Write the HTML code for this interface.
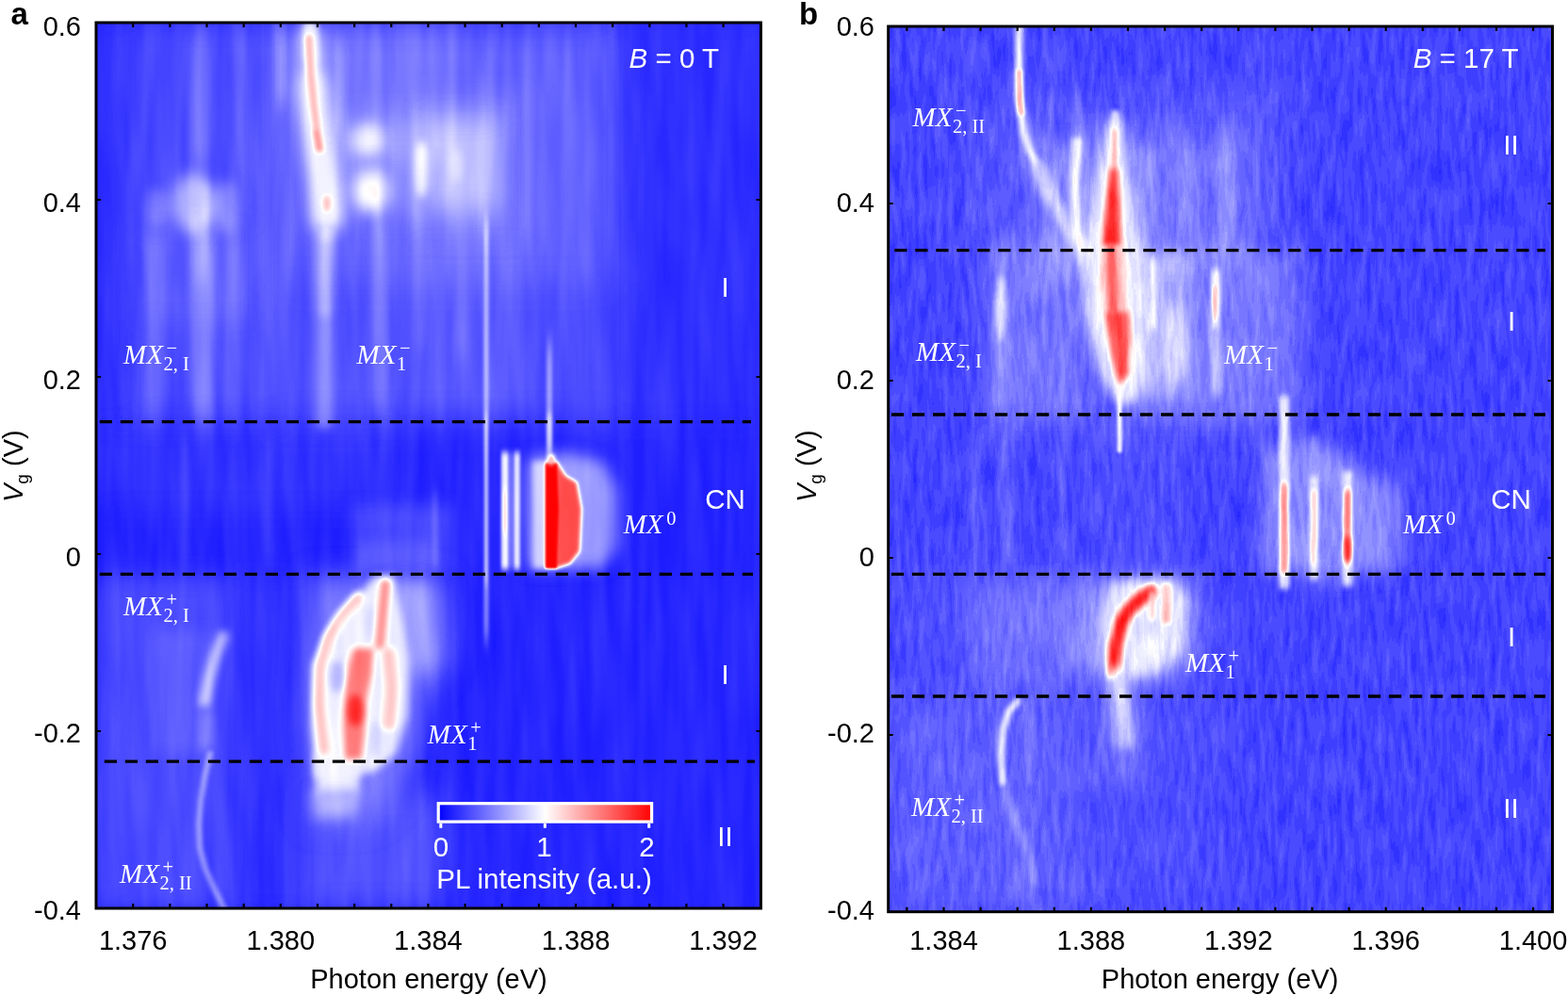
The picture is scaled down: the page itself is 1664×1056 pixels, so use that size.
<!DOCTYPE html><html><head><meta charset="utf-8"><style>html,body{margin:0;padding:0;background:#fff;width:1664px;height:1056px;overflow:hidden}svg{display:block}.tk{font-family:"Liberation Sans",Arial,sans-serif;font-size:29px;fill:#000}.wt{font-family:"Liberation Sans",Arial,sans-serif;font-size:29.5px;fill:#fff}.mx{font-family:"Liberation Serif","DejaVu Serif",serif;font-style:italic;font-size:29px;fill:#fff}.ms{font-family:"Liberation Serif","DejaVu Serif",serif;font-size:20.5px;fill:#fff}.mx .r{font-style:normal}</style></head><body>
<svg width="1664" height="1056" viewBox="0 0 1664 1056">
<defs>
<filter id="cmapA" filterUnits="userSpaceOnUse" x="0" y="0" width="1664" height="1056" color-interpolation-filters="sRGB"><feTurbulence type="fractalNoise" baseFrequency="0.07 0.008" numOctaves="2" seed="3" result="t"/><feColorMatrix in="t" type="matrix" values="1 0 0 0 0 1 0 0 0 0 1 0 0 0 0 0 0 0 0 1" result="tg"/><feComposite in="SourceGraphic" in2="tg" operator="arithmetic" k1="0" k2="1" k3="0.07" k4="-0.035" result="s"/><feComponentTransfer in="s"><feFuncR type="table" tableValues="0 1 1"/><feFuncG type="table" tableValues="0 1 0"/><feFuncB type="table" tableValues="1 1 0"/><feFuncA type="table" tableValues="1 1"/></feComponentTransfer></filter>
<filter id="cmapB" filterUnits="userSpaceOnUse" x="0" y="0" width="1664" height="1056" color-interpolation-filters="sRGB"><feTurbulence type="fractalNoise" baseFrequency="0.16 0.025" numOctaves="2" seed="7" result="t"/><feColorMatrix in="t" type="matrix" values="1 0 0 0 0 1 0 0 0 0 1 0 0 0 0 0 0 0 0 1" result="tg0"/><feComponentTransfer in="tg0" result="tg"><feFuncR type="discrete" tableValues="0 0.2 0.4 0.6 0.8 1"/><feFuncG type="discrete" tableValues="0 0.2 0.4 0.6 0.8 1"/><feFuncB type="discrete" tableValues="0 0.2 0.4 0.6 0.8 1"/></feComponentTransfer><feComposite in="SourceGraphic" in2="tg" operator="arithmetic" k1="0" k2="1" k3="0.12" k4="-0.06" result="s"/><feComponentTransfer in="s"><feFuncR type="table" tableValues="0 1 1"/><feFuncG type="table" tableValues="0 1 0"/><feFuncB type="table" tableValues="1 1 0"/><feFuncA type="table" tableValues="1 1"/></feComponentTransfer></filter>
<filter id="f0" filterUnits="userSpaceOnUse" x="0" y="0" width="1664" height="1056" color-interpolation-filters="sRGB"><feGaussianBlur stdDeviation="15 15"/></filter>
<filter id="f1" filterUnits="userSpaceOnUse" x="0" y="0" width="1664" height="1056" color-interpolation-filters="sRGB"><feGaussianBlur stdDeviation="12 12"/></filter>
<filter id="f2" filterUnits="userSpaceOnUse" x="0" y="0" width="1664" height="1056" color-interpolation-filters="sRGB"><feGaussianBlur stdDeviation="18 18"/></filter>
<filter id="f3" filterUnits="userSpaceOnUse" x="0" y="0" width="1664" height="1056" color-interpolation-filters="sRGB"><feGaussianBlur stdDeviation="8 8"/></filter>
<filter id="f4" filterUnits="userSpaceOnUse" x="0" y="0" width="1664" height="1056" color-interpolation-filters="sRGB"><feGaussianBlur stdDeviation="5 15"/></filter>
<filter id="f5" filterUnits="userSpaceOnUse" x="0" y="0" width="1664" height="1056" color-interpolation-filters="sRGB"><feGaussianBlur stdDeviation="4 15"/></filter>
<filter id="f6" filterUnits="userSpaceOnUse" x="0" y="0" width="1664" height="1056" color-interpolation-filters="sRGB"><feGaussianBlur stdDeviation="3 12"/></filter>
<filter id="f7" filterUnits="userSpaceOnUse" x="0" y="0" width="1664" height="1056" color-interpolation-filters="sRGB"><feGaussianBlur stdDeviation="3 15"/></filter>
<filter id="f8" filterUnits="userSpaceOnUse" x="0" y="0" width="1664" height="1056" color-interpolation-filters="sRGB"><feGaussianBlur stdDeviation="4 4"/></filter>
<filter id="f9" filterUnits="userSpaceOnUse" x="0" y="0" width="1664" height="1056" color-interpolation-filters="sRGB"><feGaussianBlur stdDeviation="7 7"/></filter>
<filter id="f10" filterUnits="userSpaceOnUse" x="0" y="0" width="1664" height="1056" color-interpolation-filters="sRGB"><feGaussianBlur stdDeviation="6 6"/></filter>
<filter id="f11" filterUnits="userSpaceOnUse" x="0" y="0" width="1664" height="1056" color-interpolation-filters="sRGB"><feGaussianBlur stdDeviation="14 14"/></filter>
<filter id="f12" filterUnits="userSpaceOnUse" x="0" y="0" width="1664" height="1056" color-interpolation-filters="sRGB"><feGaussianBlur stdDeviation="5 5"/></filter>
<filter id="f13" filterUnits="userSpaceOnUse" x="0" y="0" width="1664" height="1056" color-interpolation-filters="sRGB"><feGaussianBlur stdDeviation="3 3"/></filter>
<filter id="f14" filterUnits="userSpaceOnUse" x="0" y="0" width="1664" height="1056" color-interpolation-filters="sRGB"><feGaussianBlur stdDeviation="2.5 2.5"/></filter>
<filter id="f15" filterUnits="userSpaceOnUse" x="0" y="0" width="1664" height="1056" color-interpolation-filters="sRGB"><feGaussianBlur stdDeviation="10 10"/></filter>
<filter id="f16" filterUnits="userSpaceOnUse" x="0" y="0" width="1664" height="1056" color-interpolation-filters="sRGB"><feGaussianBlur stdDeviation="5 12"/></filter>
<filter id="f17" filterUnits="userSpaceOnUse" x="0" y="0" width="1664" height="1056" color-interpolation-filters="sRGB"><feGaussianBlur stdDeviation="5 14"/></filter>
<filter id="f18" filterUnits="userSpaceOnUse" x="0" y="0" width="1664" height="1056" color-interpolation-filters="sRGB"><feGaussianBlur stdDeviation="4 12"/></filter>
<filter id="f19" filterUnits="userSpaceOnUse" x="0" y="0" width="1664" height="1056" color-interpolation-filters="sRGB"><feGaussianBlur stdDeviation="1.6 10"/></filter>
<filter id="f20" filterUnits="userSpaceOnUse" x="0" y="0" width="1664" height="1056" color-interpolation-filters="sRGB"><feGaussianBlur stdDeviation="1.3 6"/></filter>
<filter id="f21" filterUnits="userSpaceOnUse" x="0" y="0" width="1664" height="1056" color-interpolation-filters="sRGB"><feGaussianBlur stdDeviation="1.8 12"/></filter>
<filter id="f22" filterUnits="userSpaceOnUse" x="0" y="0" width="1664" height="1056" color-interpolation-filters="sRGB"><feGaussianBlur stdDeviation="1.5 5"/></filter>
<filter id="f23" filterUnits="userSpaceOnUse" x="0" y="0" width="1664" height="1056" color-interpolation-filters="sRGB"><feGaussianBlur stdDeviation="2 6"/></filter>
<filter id="f24" filterUnits="userSpaceOnUse" x="0" y="0" width="1664" height="1056" color-interpolation-filters="sRGB"><feGaussianBlur stdDeviation="3 10"/></filter>
<filter id="f25" filterUnits="userSpaceOnUse" x="0" y="0" width="1664" height="1056" color-interpolation-filters="sRGB"><feGaussianBlur stdDeviation="1.5 3"/></filter>
<filter id="f26" filterUnits="userSpaceOnUse" x="0" y="0" width="1664" height="1056" color-interpolation-filters="sRGB"><feGaussianBlur stdDeviation="2 3"/></filter>
<filter id="f27" filterUnits="userSpaceOnUse" x="0" y="0" width="1664" height="1056" color-interpolation-filters="sRGB"><feGaussianBlur stdDeviation="2 2"/></filter>
<filter id="f28" filterUnits="userSpaceOnUse" x="0" y="0" width="1664" height="1056" color-interpolation-filters="sRGB"><feGaussianBlur stdDeviation="1.2 1.2"/></filter>
<filter id="f29" filterUnits="userSpaceOnUse" x="0" y="0" width="1664" height="1056" color-interpolation-filters="sRGB"><feGaussianBlur stdDeviation="9 9"/></filter>
<filter id="f30" filterUnits="userSpaceOnUse" x="0" y="0" width="1664" height="1056" color-interpolation-filters="sRGB"><feGaussianBlur stdDeviation="3.2 3.2"/></filter>
<filter id="f31" filterUnits="userSpaceOnUse" x="0" y="0" width="1664" height="1056" color-interpolation-filters="sRGB"><feGaussianBlur stdDeviation="3.5 3.5"/></filter>
<filter id="f32" filterUnits="userSpaceOnUse" x="0" y="0" width="1664" height="1056" color-interpolation-filters="sRGB"><feGaussianBlur stdDeviation="20 20"/></filter>
<filter id="f33" filterUnits="userSpaceOnUse" x="0" y="0" width="1664" height="1056" color-interpolation-filters="sRGB"><feGaussianBlur stdDeviation="4 20"/></filter>
<filter id="f34" filterUnits="userSpaceOnUse" x="0" y="0" width="1664" height="1056" color-interpolation-filters="sRGB"><feGaussianBlur stdDeviation="4.5 4.5"/></filter>
<filter id="f35" filterUnits="userSpaceOnUse" x="0" y="0" width="1664" height="1056" color-interpolation-filters="sRGB"><feGaussianBlur stdDeviation="3 8"/></filter>
<filter id="f36" filterUnits="userSpaceOnUse" x="0" y="0" width="1664" height="1056" color-interpolation-filters="sRGB"><feGaussianBlur stdDeviation="1.5 1.5"/></filter>
<filter id="f37" filterUnits="userSpaceOnUse" x="0" y="0" width="1664" height="1056" color-interpolation-filters="sRGB"><feGaussianBlur stdDeviation="4 10"/></filter>
<filter id="f38" filterUnits="userSpaceOnUse" x="0" y="0" width="1664" height="1056" color-interpolation-filters="sRGB"><feGaussianBlur stdDeviation="2 4"/></filter>
<filter id="f39" filterUnits="userSpaceOnUse" x="0" y="0" width="1664" height="1056" color-interpolation-filters="sRGB"><feGaussianBlur stdDeviation="2.5 6"/></filter>
<clipPath id="ca"><rect x="102" y="24" width="705.5" height="940"/></clipPath>
<clipPath id="cb"><rect x="942.7" y="28" width="704.8" height="939.7"/></clipPath>
<linearGradient id="cbar" x1="0" x2="1" y1="0" y2="0"><stop offset="0" stop-color="#0000ff"/><stop offset="0.5" stop-color="#ffffff"/><stop offset="1" stop-color="#ff0000"/></linearGradient>
</defs>
<g clip-path="url(#ca)"><g filter="url(#cmapA)">
<rect x="102" y="24" width="706" height="940" fill="rgb(19,19,19)"/>
<rect x="140" y="24" width="160" height="423" fill="rgb(18,18,18)" filter="url(#f0)" style="mix-blend-mode:plus-lighter"/>
<rect x="102" y="24" width="38" height="423" fill="rgb(6,6,6)" filter="url(#f1)" style="mix-blend-mode:plus-lighter"/>
<rect x="290" y="24" width="360" height="423" fill="rgb(20,20,20)" filter="url(#f2)" style="mix-blend-mode:plus-lighter"/>
<rect x="290" y="24" width="360" height="276" fill="rgb(10,10,10)" filter="url(#f2)" style="mix-blend-mode:plus-lighter"/>
<rect x="640" y="24" width="168" height="423" fill="rgb(5,5,5)" filter="url(#f0)" style="mix-blend-mode:plus-lighter"/>
<rect x="102" y="455" width="318" height="85" fill="rgb(6,6,6)" filter="url(#f0)" style="mix-blend-mode:plus-lighter"/>
<rect x="102" y="612" width="143" height="352" fill="rgb(18,18,18)" filter="url(#f1)" style="mix-blend-mode:plus-lighter"/>
<rect x="245" y="612" width="85" height="352" fill="rgb(5,5,5)" filter="url(#f1)" style="mix-blend-mode:plus-lighter"/>
<rect x="165" y="670" width="60" height="130" fill="rgb(10,10,10)" filter="url(#f3)" style="mix-blend-mode:plus-lighter"/>
<rect x="330" y="840" width="140" height="124" fill="rgb(22,22,22)" filter="url(#f0)" style="mix-blend-mode:plus-lighter"/>
<rect x="204" y="24" width="18" height="156" fill="rgb(23,23,23)" filter="url(#f4)" style="mix-blend-mode:plus-lighter"/>
<rect x="250" y="24" width="12" height="176" fill="rgb(15,15,15)" filter="url(#f5)" style="mix-blend-mode:plus-lighter"/>
<rect x="292" y="24" width="12" height="86" fill="rgb(26,26,26)" filter="url(#f6)" style="mix-blend-mode:plus-lighter"/>
<rect x="355" y="40" width="10" height="100" fill="rgb(19,19,19)" filter="url(#f6)" style="mix-blend-mode:plus-lighter"/>
<rect x="396" y="30" width="8" height="220" fill="rgb(9,9,9)" filter="url(#f7)" style="mix-blend-mode:plus-lighter"/>
<rect x="436" y="30" width="8" height="220" fill="rgb(9,9,9)" filter="url(#f7)" style="mix-blend-mode:plus-lighter"/>
<rect x="476" y="30" width="8" height="220" fill="rgb(9,9,9)" filter="url(#f7)" style="mix-blend-mode:plus-lighter"/>
<rect x="516" y="30" width="8" height="220" fill="rgb(9,9,9)" filter="url(#f7)" style="mix-blend-mode:plus-lighter"/>
<rect x="556" y="30" width="8" height="220" fill="rgb(9,9,9)" filter="url(#f7)" style="mix-blend-mode:plus-lighter"/>
<rect x="598" y="30" width="8" height="220" fill="rgb(9,9,9)" filter="url(#f7)" style="mix-blend-mode:plus-lighter"/>
<ellipse cx="206" cy="216" rx="22" ry="32" fill="rgb(54,54,54)" filter="url(#f3)" style="mix-blend-mode:plus-lighter"/>
<ellipse cx="218" cy="214" rx="7" ry="24" fill="rgb(15,15,15)" filter="url(#f8)" style="mix-blend-mode:plus-lighter"/>
<ellipse cx="241" cy="220" rx="13" ry="28" fill="rgb(32,32,32)" filter="url(#f9)" style="mix-blend-mode:plus-lighter"/>
<ellipse cx="166" cy="220" rx="11" ry="20" fill="rgb(23,23,23)" filter="url(#f10)" style="mix-blend-mode:plus-lighter"/>
<ellipse cx="390" cy="148" rx="17" ry="17" fill="rgb(41,41,41)" filter="url(#f9)" style="mix-blend-mode:plus-lighter"/>
<ellipse cx="394" cy="203" rx="19" ry="24" fill="rgb(51,51,51)" filter="url(#f9)" style="mix-blend-mode:plus-lighter"/>
<ellipse cx="392" cy="205" rx="9" ry="15" fill="rgb(13,13,13)" filter="url(#f8)" style="mix-blend-mode:plus-lighter"/>
<ellipse cx="447.5" cy="180" rx="7" ry="30" fill="rgb(46,46,46)" filter="url(#f8)" style="mix-blend-mode:plus-lighter"/>
<rect x="454" y="125" width="73" height="95" fill="rgb(19,19,19)" filter="url(#f11)" style="mix-blend-mode:plus-lighter"/>
<ellipse cx="485" cy="175" rx="6" ry="18" fill="rgb(15,15,15)" filter="url(#f8)" style="mix-blend-mode:plus-lighter"/>
<rect x="355" y="125" width="175" height="103" fill="rgb(18,18,18)" filter="url(#f11)" style="mix-blend-mode:plus-lighter"/>
<path d="M329 40 L331 80 L334 120 L338 156 L343 190 L347 230" fill="none" stroke="rgb(46,46,46)" stroke-width="30" stroke-linecap="round" stroke-linejoin="round" filter="url(#f9)" style="mix-blend-mode:plus-lighter"/>
<path d="M331 95 L334 120 L338 156 L343 190 L347 232" fill="none" stroke="rgb(26,26,26)" stroke-width="40" stroke-linecap="round" stroke-linejoin="round" filter="url(#f3)" style="mix-blend-mode:plus-lighter"/>
<path d="M329 24 L330 60" fill="none" stroke="rgb(26,26,26)" stroke-width="14" stroke-linecap="round" stroke-linejoin="round" filter="url(#f12)" style="mix-blend-mode:plus-lighter"/>
<rect x="352" y="24" width="118" height="146" fill="rgb(10,10,10)" filter="url(#f15)" style="mix-blend-mode:plus-lighter"/>
<rect x="145" y="240" width="125" height="100" fill="rgb(8,8,8)" filter="url(#f11)" style="mix-blend-mode:plus-lighter"/>
<rect x="204" y="240" width="20" height="60" fill="rgb(15,15,15)" filter="url(#f16)" style="mix-blend-mode:plus-lighter"/>
<rect x="154" y="240" width="18" height="207" fill="rgb(19,19,19)" filter="url(#f4)" style="mix-blend-mode:plus-lighter"/>
<rect x="204" y="240" width="22" height="207" fill="rgb(26,26,26)" filter="url(#f4)" style="mix-blend-mode:plus-lighter"/>
<rect x="240" y="240" width="14" height="207" fill="rgb(15,15,15)" filter="url(#f5)" style="mix-blend-mode:plus-lighter"/>
<path d="M346 252 L345 300 L344 447" fill="none" stroke="rgb(33,33,33)" stroke-width="18" stroke-linecap="round" stroke-linejoin="round" filter="url(#f12)" style="mix-blend-mode:plus-lighter"/>
<path d="M346 252 L345 330" fill="none" stroke="rgb(20,20,20)" stroke-width="14" stroke-linecap="round" stroke-linejoin="round" filter="url(#f12)" style="mix-blend-mode:plus-lighter"/>
<rect x="393" y="230" width="18" height="210" fill="rgb(20,20,20)" filter="url(#f17)" style="mix-blend-mode:plus-lighter"/>
<rect x="440" y="220" width="10" height="150" fill="rgb(15,15,15)" filter="url(#f18)" style="mix-blend-mode:plus-lighter"/>
<rect x="483" y="220" width="14" height="160" fill="rgb(10,10,10)" filter="url(#f18)" style="mix-blend-mode:plus-lighter"/>
<rect x="440" y="100" width="120" height="160" fill="rgb(10,10,10)" filter="url(#f1)" style="mix-blend-mode:plus-lighter"/>
<rect x="440" y="260" width="120" height="180" fill="rgb(6,6,6)" filter="url(#f1)" style="mix-blend-mode:plus-lighter"/>
<rect x="507" y="80" width="8" height="170" fill="rgb(10,10,10)" filter="url(#f6)" style="mix-blend-mode:plus-lighter"/>
<rect x="513.5" y="235" width="5" height="445" fill="rgb(46,46,46)" filter="url(#f19)" style="mix-blend-mode:plus-lighter"/>
<rect x="514" y="440" width="4" height="180" fill="rgb(28,28,28)" filter="url(#f20)" style="mix-blend-mode:plus-lighter"/>
<rect x="580" y="365" width="6" height="127" fill="rgb(38,38,38)" filter="url(#f21)" style="mix-blend-mode:plus-lighter"/>
<rect x="580" y="440" width="6" height="52" fill="rgb(41,41,41)" filter="url(#f22)" style="mix-blend-mode:plus-lighter"/>
<rect x="373" y="536" width="107" height="70" fill="rgb(18,18,18)" filter="url(#f3)" style="mix-blend-mode:plus-lighter"/>
<rect x="380" y="575" width="80" height="31" fill="rgb(10,10,10)" filter="url(#f10)" style="mix-blend-mode:plus-lighter"/>
<rect x="459" y="520" width="6" height="86" fill="rgb(15,15,15)" filter="url(#f23)" style="mix-blend-mode:plus-lighter"/>
<rect x="193" y="460" width="8" height="140" fill="rgb(8,8,8)" filter="url(#f24)" style="mix-blend-mode:plus-lighter"/>
<rect x="283" y="460" width="8" height="140" fill="rgb(10,10,10)" filter="url(#f24)" style="mix-blend-mode:plus-lighter"/>
<rect x="532" y="480" width="7" height="124" fill="rgb(96,96,96)" filter="url(#f25)" style="mix-blend-mode:plus-lighter"/>
<rect x="533" y="520" width="5" height="45" fill="rgb(19,19,19)" filter="url(#f22)" style="mix-blend-mode:plus-lighter"/>
<rect x="546" y="480" width="6" height="124" fill="rgb(96,96,96)" filter="url(#f25)" style="mix-blend-mode:plus-lighter"/>
<rect x="538" y="480" width="8" height="124" fill="rgb(38,38,38)" filter="url(#f26)" style="mix-blend-mode:plus-lighter"/>
<path d="M237 675 L229 695 L222 720 L217 745" fill="none" stroke="rgb(64,64,64)" stroke-width="11" stroke-linecap="round" stroke-linejoin="round" filter="url(#f8)" style="mix-blend-mode:plus-lighter"/>
<path d="M219 760 L218 790" fill="none" stroke="rgb(19,19,19)" stroke-width="10" stroke-linecap="round" stroke-linejoin="round" filter="url(#f12)" style="mix-blend-mode:plus-lighter"/>
<path d="M223 800 L217 825 L213 850 L211 875 L212 900 L218 922 L228 945 L240 968" fill="none" stroke="rgb(42,42,42)" stroke-width="6" stroke-linecap="round" stroke-linejoin="round" filter="url(#f27)" style="mix-blend-mode:plus-lighter"/>
<path d="M329 30 L331 80 L334 120 L338 156 L343 190 L347 230" fill="none" stroke="rgb(121,121,121)" stroke-width="12" stroke-linecap="round" stroke-linejoin="round" opacity="1" filter="url(#f13)"/>
<path d="M328 40 L330 80 L333 112 L336 135" fill="none" stroke="rgb(166,166,166)" stroke-width="7" stroke-linecap="round" stroke-linejoin="round" opacity="1" filter="url(#f14)"/>
<path d="M336 140 L339 158" fill="none" stroke="rgb(185,185,185)" stroke-width="7" stroke-linecap="round" stroke-linejoin="round" opacity="1" filter="url(#f14)"/>
<ellipse cx="347" cy="216" rx="3.5" ry="9" fill="rgb(163,163,163)" opacity="1" filter="url(#f14)"/>
<polygon points="560,486 600,480 640,490 655,520 655,580 640,603 560,604" fill="rgb(79,79,79)" opacity="1" filter="url(#f3)"/>
<rect x="566" y="490" width="14" height="113" fill="rgb(108,108,108)" opacity="1" filter="url(#f13)"/>
<polygon points="579,490 591,490 600,505 612,512 617,540 615,585 605,598 591,603 579,603" fill="rgb(217,217,217)" opacity="1" filter="url(#f27)"/>
<polygon points="579,492 591,492 593,540 591,603 579,603" fill="rgb(255,255,255)" opacity="1" filter="url(#f28)"/>
<ellipse cx="585" cy="488" rx="4" ry="6" fill="rgb(166,166,166)" opacity="1" filter="url(#f27)"/>
<polygon points="330,612 470,612 478,700 450,740 440,800 420,850 390,875 330,875 322,760" fill="rgb(61,61,61)" opacity="1" filter="url(#f11)"/>
<polygon points="418,615 455,620 460,700 440,720 430,660" fill="rgb(84,84,84)" opacity="1" filter="url(#f29)"/>
<polygon points="398,611 418,611 428,660 434,700 432,760 420,800 398,818 366,826 334,826 330,770 332,705 350,670 384,628" fill="rgb(119,119,119)" opacity="1" filter="url(#f8)"/>
<polygon points="334,800 385,800 380,842 336,846" fill="rgb(121,121,121)" opacity="1" filter="url(#f12)"/>
<polygon points="332,838 385,838 375,866 335,868" fill="rgb(92,92,92)" opacity="1" filter="url(#f9)"/>
<ellipse cx="394" cy="662" rx="6" ry="20" fill="rgb(105,105,105)" opacity="1" filter="url(#f8)"/>
<ellipse cx="398" cy="785" rx="7" ry="20" fill="rgb(102,102,102)" opacity="1" filter="url(#f8)"/>
<path d="M409 620 L406 650 L403 685" fill="none" stroke="rgb(185,185,185)" stroke-width="10" stroke-linecap="round" stroke-linejoin="round" opacity="1" filter="url(#f30)"/>
<path d="M380 634 L362 654 L348 677 L340 706 L339 748 L344 796" fill="none" stroke="rgb(159,159,159)" stroke-width="11" stroke-linecap="round" stroke-linejoin="round" opacity="1" filter="url(#f31)"/>
<polygon points="375,688 396,688 394,715 388,745 387,780 384,806 366,806 364,770 366,730 370,705" fill="rgb(194,194,194)" opacity="1" filter="url(#f31)"/>
<ellipse cx="377" cy="754" rx="8" ry="17" fill="rgb(236,236,236)" opacity="1" filter="url(#f31)"/>
<path d="M413 694 L416 730 L413 768" fill="none" stroke="rgb(156,156,156)" stroke-width="14" stroke-linecap="round" stroke-linejoin="round" opacity="1" filter="url(#f31)"/>
<ellipse cx="357" cy="718" rx="7" ry="17" fill="rgb(92,92,92)" opacity="1" filter="url(#f31)"/>
</g></g>
<g clip-path="url(#cb)"><g filter="url(#cmapB)">
<rect x="942" y="28" width="706" height="940" fill="rgb(34,34,34)"/>
<rect x="1040" y="100" width="320" height="360" fill="rgb(10,10,10)" filter="url(#f32)" style="mix-blend-mode:plus-lighter"/>
<rect x="1050" y="250" width="100" height="195" fill="rgb(15,15,15)" filter="url(#f15)" style="mix-blend-mode:plus-lighter"/>
<rect x="1140" y="140" width="190" height="140" fill="rgb(10,10,10)" filter="url(#f1)" style="mix-blend-mode:plus-lighter"/>
<rect x="1195" y="265" width="190" height="180" fill="rgb(18,18,18)" filter="url(#f15)" style="mix-blend-mode:plus-lighter"/>
<rect x="1150" y="445" width="110" height="167" fill="rgb(5,5,5)" filter="url(#f15)" style="mix-blend-mode:plus-lighter"/>
<rect x="942" y="600" width="358" height="368" fill="rgb(5,5,5)" filter="url(#f32)" style="mix-blend-mode:plus-lighter"/>
<rect x="1203" y="150" width="24" height="120" fill="rgb(19,19,19)" filter="url(#f16)" style="mix-blend-mode:plus-lighter"/>
<rect x="1250" y="150" width="18" height="120" fill="rgb(15,15,15)" filter="url(#f16)" style="mix-blend-mode:plus-lighter"/>
<rect x="1292" y="130" width="18" height="140" fill="rgb(19,19,19)" filter="url(#f16)" style="mix-blend-mode:plus-lighter"/>
<rect x="995" y="28" width="10" height="232" fill="rgb(6,6,6)" filter="url(#f33)" style="mix-blend-mode:plus-lighter"/>
<rect x="1025" y="28" width="10" height="232" fill="rgb(8,8,8)" filter="url(#f33)" style="mix-blend-mode:plus-lighter"/>
<rect x="1110" y="28" width="10" height="232" fill="rgb(10,10,10)" filter="url(#f33)" style="mix-blend-mode:plus-lighter"/>
<rect x="1235" y="28" width="10" height="232" fill="rgb(8,8,8)" filter="url(#f33)" style="mix-blend-mode:plus-lighter"/>
<rect x="1325" y="28" width="10" height="232" fill="rgb(6,6,6)" filter="url(#f33)" style="mix-blend-mode:plus-lighter"/>
<rect x="1345" y="28" width="10" height="232" fill="rgb(5,5,5)" filter="url(#f33)" style="mix-blend-mode:plus-lighter"/>
<path d="M1086 132 L1095 172 L1110 205" fill="none" stroke="rgb(15,15,15)" stroke-width="22" stroke-linecap="round" stroke-linejoin="round" filter="url(#f10)" style="mix-blend-mode:plus-lighter"/>
<rect x="1139" y="100" width="8" height="50" fill="rgb(23,23,23)" filter="url(#f35)" style="mix-blend-mode:plus-lighter"/>
<path d="M1142 150 L1140 190 L1141 247" fill="none" stroke="rgb(15,15,15)" stroke-width="18" stroke-linecap="round" stroke-linejoin="round" filter="url(#f12)" style="mix-blend-mode:plus-lighter"/>
<path d="M1146 258 L1155 285 L1165 320" fill="none" stroke="rgb(26,26,26)" stroke-width="12" stroke-linecap="round" stroke-linejoin="round" filter="url(#f12)" style="mix-blend-mode:plus-lighter"/>
<rect x="1100" y="150" width="65" height="150" fill="rgb(15,15,15)" filter="url(#f15)" style="mix-blend-mode:plus-lighter"/>
<rect x="1195" y="270" width="67" height="150" fill="rgb(26,26,26)" filter="url(#f3)" style="mix-blend-mode:plus-lighter"/>
<rect x="1056" y="270" width="12" height="170" fill="rgb(19,19,19)" filter="url(#f37)" style="mix-blend-mode:plus-lighter"/>
<rect x="1030" y="450" width="10" height="150" fill="rgb(15,15,15)" filter="url(#f37)" style="mix-blend-mode:plus-lighter"/>
<rect x="1122" y="450" width="10" height="150" fill="rgb(15,15,15)" filter="url(#f37)" style="mix-blend-mode:plus-lighter"/>
<rect x="1060" y="450" width="16" height="150" fill="rgb(15,15,15)" filter="url(#f37)" style="mix-blend-mode:plus-lighter"/>
<rect x="1030" y="615" width="120" height="110" fill="rgb(18,18,18)" filter="url(#f1)" style="mix-blend-mode:plus-lighter"/>
<rect x="1165" y="720" width="50" height="115" fill="rgb(15,15,15)" filter="url(#f3)" style="mix-blend-mode:plus-lighter"/>
<rect x="943" y="740" width="207" height="228" fill="rgb(8,8,8)" filter="url(#f0)" style="mix-blend-mode:plus-lighter"/>
<path d="M1066 835 L1072 858 L1082 882 L1090 905 L1097 935" fill="none" stroke="rgb(20,20,20)" stroke-width="9" stroke-linecap="round" stroke-linejoin="round" filter="url(#f13)" style="mix-blend-mode:plus-lighter"/>
<path d="M1088 745 L1092 775 L1093 805 L1094 830" fill="none" stroke="rgb(20,20,20)" stroke-width="8" stroke-linecap="round" stroke-linejoin="round" filter="url(#f13)" style="mix-blend-mode:plus-lighter"/>
<path d="M1074 866 L1085 900 L1095 968" fill="none" stroke="rgb(8,8,8)" stroke-width="22" stroke-linecap="round" stroke-linejoin="round" filter="url(#f9)" style="mix-blend-mode:plus-lighter"/>
<path d="M1081.5 28 L1081 70 L1082 110 L1087 141 L1092 159 L1100 174" fill="none" stroke="rgb(128,128,128)" stroke-width="8" stroke-linecap="round" stroke-linejoin="round" opacity="1" filter="url(#f14)"/>
<path d="M1102 178 L1114 205 L1126 228 L1140 252 L1155 275" fill="none" stroke="rgb(108,108,108)" stroke-width="15" stroke-linecap="round" stroke-linejoin="round" opacity="1" filter="url(#f34)"/>
<path d="M1081 74 L1082 104 L1084 122" fill="none" stroke="rgb(166,166,166)" stroke-width="6" stroke-linecap="butt" stroke-linejoin="round" opacity="1" filter="url(#f27)"/>
<path d="M1143 150 L1141 190 L1143 250 L1148 262" fill="none" stroke="rgb(128,128,128)" stroke-width="9" stroke-linecap="round" stroke-linejoin="round" opacity="1" filter="url(#f14)"/>
<polygon points="1176,125 1191,125 1200,190 1210,260 1220,330 1218,400 1202,428 1184,428 1164,390 1150,330 1150,260 1162,190" fill="rgb(117,117,117)" opacity="1" filter="url(#f10)"/>
<path d="M1183.7 120 L1183.7 138" fill="none" stroke="rgb(128,128,128)" stroke-width="6" stroke-linecap="round" stroke-linejoin="round" opacity="1" filter="url(#f27)"/>
<path d="M1183 140 L1182 175" fill="none" stroke="rgb(159,159,159)" stroke-width="7" stroke-linecap="round" stroke-linejoin="round" opacity="1" filter="url(#f14)"/>
<polygon points="1178,178 1186,178 1188,215 1190,262 1169,262 1173,225" fill="rgb(236,236,236)" opacity="1" filter="url(#f13)"/>
<polygon points="1168,262 1192,262 1195,300 1196,330 1171,330 1168,300" fill="rgb(166,166,166)" opacity="1" filter="url(#f13)"/>
<path d="M1179 262 L1180 300 L1182 330" fill="none" stroke="rgb(223,223,223)" stroke-width="6" stroke-linecap="round" stroke-linejoin="round" opacity="1" filter="url(#f14)"/>
<polygon points="1172,330 1198,330 1200,360 1197,398 1188,410 1180,380" fill="rgb(207,207,207)" opacity="1" filter="url(#f13)"/>
<path d="M1186 335 L1188 365 L1191 395" fill="none" stroke="rgb(227,227,227)" stroke-width="8" stroke-linecap="round" stroke-linejoin="round" opacity="1" filter="url(#f13)"/>
<path d="M1188 412 L1188 478" fill="none" stroke="rgb(128,128,128)" stroke-width="5" stroke-linecap="round" stroke-linejoin="round" opacity="1" filter="url(#f36)"/>
<ellipse cx="1062" cy="328" rx="4.5" ry="36" fill="rgb(125,125,125)" opacity="1" filter="url(#f13)"/>
<rect x="1220" y="276" width="7" height="72" fill="rgb(128,128,128)" opacity="1" filter="url(#f38)"/>
<ellipse cx="1247" cy="365" rx="14" ry="42" fill="rgb(108,108,108)" opacity="1" filter="url(#f10)"/>
<rect x="1285" y="286" width="10" height="66" fill="rgb(128,128,128)" opacity="1" filter="url(#f38)"/>
<ellipse cx="1289.5" cy="322" rx="2.5" ry="20" fill="rgb(159,159,159)" opacity="1" filter="url(#f36)"/>
<rect x="1285" y="350" width="10" height="70" fill="rgb(99,99,99)" opacity="1" filter="url(#f39)"/>
<polygon points="1340,470 1410,470 1450,505 1485,515 1488,600 1440,612 1340,612" fill="rgb(70,70,70)" opacity="1" filter="url(#f15)"/>
<rect x="1358" y="420" width="10" height="205" fill="rgb(121,121,121)" opacity="1" filter="url(#f26)"/>
<rect x="1360" y="513" width="6" height="95" fill="rgb(191,191,191)" opacity="1" filter="url(#f26)"/>
<rect x="1390" y="463" width="9" height="42" fill="rgb(79,79,79)" opacity="1" filter="url(#f23)"/>
<rect x="1390" y="505" width="9" height="110" fill="rgb(117,117,117)" opacity="1" filter="url(#f26)"/>
<rect x="1392" y="520" width="5" height="80" fill="rgb(153,153,153)" opacity="1" filter="url(#f26)"/>
<rect x="1425" y="500" width="10" height="122" fill="rgb(121,121,121)" opacity="1" filter="url(#f26)"/>
<rect x="1427" y="520" width="6" height="78" fill="rgb(204,204,204)" opacity="1" filter="url(#f26)"/>
<ellipse cx="1430" cy="582" rx="3.5" ry="14" fill="rgb(236,236,236)" opacity="1" filter="url(#f27)"/>
<polygon points="1130,650 1160,615 1250,612 1272,640 1270,700 1240,725 1170,725 1135,700" fill="rgb(74,74,74)" opacity="1" filter="url(#f15)"/>
<polygon points="1178,618 1245,614 1262,640 1256,690 1232,712 1195,722 1172,705 1168,660" fill="rgb(115,115,115)" opacity="1" filter="url(#f10)"/>
<path d="M1221 628 L1210 636 L1199 646 L1190 660 L1184 685 L1182 714" fill="none" stroke="rgb(240,240,240)" stroke-width="14" stroke-linecap="round" stroke-linejoin="round" opacity="1" filter="url(#f13)"/>
<path d="M1238 622 L1238 658" fill="none" stroke="rgb(163,163,163)" stroke-width="8" stroke-linecap="round" stroke-linejoin="round" opacity="1" filter="url(#f14)"/>
<path d="M1223 630 L1223 656" fill="none" stroke="rgb(153,153,153)" stroke-width="6" stroke-linecap="round" stroke-linejoin="round" opacity="1" filter="url(#f14)"/>
<path d="M1186 718 L1190 750 L1194 785" fill="none" stroke="rgb(108,108,108)" stroke-width="20" stroke-linecap="round" stroke-linejoin="round" opacity="1" filter="url(#f10)"/>
<ellipse cx="1222" cy="684" rx="9" ry="12" fill="rgb(125,125,125)" opacity="1" filter="url(#f8)"/>
<path d="M1080 744 L1070 756 L1064 775 L1062 800 L1064 830" fill="none" stroke="rgb(128,128,128)" stroke-width="7" stroke-linecap="round" stroke-linejoin="round" opacity="1" filter="url(#f14)"/>
</g></g>
<line x1="105.8" y1="447.7" x2="797" y2="447.7" stroke="#000" stroke-width="3.3" stroke-dasharray="13.2 8.8" stroke-dashoffset="0"/>
<line x1="105.8" y1="609.3" x2="799" y2="609.3" stroke="#000" stroke-width="3.3" stroke-dasharray="13.2 8.8" stroke-dashoffset="0"/>
<line x1="110.8" y1="808.1" x2="801" y2="808.1" stroke="#000" stroke-width="3.3" stroke-dasharray="13.2 8.8" stroke-dashoffset="0"/>
<line x1="949.3" y1="265.7" x2="1640" y2="265.7" stroke="#000" stroke-width="3.3" stroke-dasharray="13.2 8.8" stroke-dashoffset="0"/>
<line x1="946" y1="440" x2="1640" y2="440" stroke="#000" stroke-width="3.3" stroke-dasharray="13.2 8.8" stroke-dashoffset="0"/>
<line x1="946" y1="609.3" x2="1640" y2="609.3" stroke="#000" stroke-width="3.3" stroke-dasharray="13.2 8.8" stroke-dashoffset="0"/>
<line x1="946" y1="739" x2="1640" y2="739" stroke="#000" stroke-width="3.3" stroke-dasharray="13.2 8.8" stroke-dashoffset="0"/>
<path d="M141.2 24v5M141.2 964v-5M180.35 24v5M180.35 964v-5M219.5 24v5M219.5 964v-5M258.65 24v5M258.65 964v-5M297.8 24v5M297.8 964v-5M336.95 24v5M336.95 964v-5M376.1 24v5M376.1 964v-5M415.25 24v5M415.25 964v-5M454.4 24v5M454.4 964v-5M493.55 24v5M493.55 964v-5M532.7 24v5M532.7 964v-5M571.85 24v5M571.85 964v-5M611 24v5M611 964v-5M650.15 24v5M650.15 964v-5M689.3 24v5M689.3 964v-5M728.45 24v5M728.45 964v-5M767.6 24v5M767.6 964v-5M102 212h5M807.5 212h-5M102 400h5M807.5 400h-5M102 588h5M807.5 588h-5M102 776h5M807.5 776h-5" stroke="#000" stroke-width="2.2" fill="none"/>
<rect x="102" y="24" width="705.5" height="940" fill="none" stroke="#000" stroke-width="3"/>
<path d="M962.4 28v5M962.4 967.7v-5M1001.5 28v5M1001.5 967.7v-5M1040.6 28v5M1040.6 967.7v-5M1079.7 28v5M1079.7 967.7v-5M1118.8 28v5M1118.8 967.7v-5M1157.9 28v5M1157.9 967.7v-5M1197 28v5M1197 967.7v-5M1236.1 28v5M1236.1 967.7v-5M1275.2 28v5M1275.2 967.7v-5M1314.3 28v5M1314.3 967.7v-5M1353.4 28v5M1353.4 967.7v-5M1392.5 28v5M1392.5 967.7v-5M1431.6 28v5M1431.6 967.7v-5M1470.7 28v5M1470.7 967.7v-5M1509.8 28v5M1509.8 967.7v-5M1548.9 28v5M1548.9 967.7v-5M1588 28v5M1588 967.7v-5M1627.1 28v5M1627.1 967.7v-5M942.7 216h5M1647.5 216h-5M942.7 404h5M1647.5 404h-5M942.7 592h5M1647.5 592h-5M942.7 780h5M1647.5 780h-5" stroke="#000" stroke-width="2.2" fill="none"/>
<rect x="942.7" y="28" width="704.8" height="939.7" fill="none" stroke="#000" stroke-width="3"/>
<text class="tk" x="141.2" y="1008" text-anchor="middle">1.376</text>
<text class="tk" x="297.8" y="1008" text-anchor="middle">1.380</text>
<text class="tk" x="454.4" y="1008" text-anchor="middle">1.384</text>
<text class="tk" x="611" y="1008" text-anchor="middle">1.388</text>
<text class="tk" x="767.6" y="1008" text-anchor="middle">1.392</text>
<text class="tk" x="1001.5" y="1008" text-anchor="middle">1.384</text>
<text class="tk" x="1157.9" y="1008" text-anchor="middle">1.388</text>
<text class="tk" x="1314.3" y="1008" text-anchor="middle">1.392</text>
<text class="tk" x="1470.7" y="1008" text-anchor="middle">1.396</text>
<text class="tk" x="1627.1" y="1008" text-anchor="middle">1.400</text>
<text class="tk" x="86" y="37.7" text-anchor="end">0.6</text>
<text class="tk" x="928" y="37.7" text-anchor="end">0.6</text>
<text class="tk" x="86" y="225.3" text-anchor="end">0.4</text>
<text class="tk" x="928" y="225.3" text-anchor="end">0.4</text>
<text class="tk" x="86" y="412.9" text-anchor="end">0.2</text>
<text class="tk" x="928" y="412.9" text-anchor="end">0.2</text>
<text class="tk" x="86" y="600.5" text-anchor="end">0</text>
<text class="tk" x="928" y="600.5" text-anchor="end">0</text>
<text class="tk" x="86" y="788.1" text-anchor="end">-0.2</text>
<text class="tk" x="928" y="788.1" text-anchor="end">-0.2</text>
<text class="tk" x="86" y="975.7" text-anchor="end">-0.4</text>
<text class="tk" x="928" y="975.7" text-anchor="end">-0.4</text>
<text class="tk" x="455" y="1049" text-anchor="middle">Photon energy (eV)</text>
<text class="tk" x="1294.6" y="1049" text-anchor="middle">Photon energy (eV)</text>
<text class="tk" transform="translate(23.5,533) rotate(-90)"><tspan font-style="italic">V</tspan><tspan font-size="19" dy="6">g</tspan><tspan dy="-6"> (V)</tspan></text>
<text class="tk" transform="translate(866,533) rotate(-90)"><tspan font-style="italic">V</tspan><tspan font-size="19" dy="6">g</tspan><tspan dy="-6"> (V)</tspan></text>
<text x="11.5" y="26" style="font-family:'Liberation Sans',Arial,sans-serif;font-weight:bold;font-size:33px;fill:#000">a</text>
<text x="848" y="25.5" style="font-family:'Liberation Sans',Arial,sans-serif;font-weight:bold;font-size:33px;fill:#000">b</text>
<text class="wt" x="763" y="72" text-anchor="end"><tspan font-style="italic">B</tspan> = 0 T</text>
<text class="wt" x="1611.5" y="72" text-anchor="end"><tspan font-style="italic">B</tspan> = 17 T</text>
<text class="wt" x="769.5" y="315" text-anchor="middle">I</text>
<text class="wt" x="769.5" y="540" text-anchor="middle">CN</text>
<text class="wt" x="769.5" y="726" text-anchor="middle">I</text>
<text class="wt" x="769.5" y="898" text-anchor="middle">II</text>
<text class="wt" x="1603.5" y="164" text-anchor="middle">II</text>
<text class="wt" x="1604" y="351.4" text-anchor="middle">I</text>
<text class="wt" x="1603.5" y="540" text-anchor="middle">CN</text>
<text class="wt" x="1604" y="686" text-anchor="middle">I</text>
<text class="wt" x="1603.5" y="868" text-anchor="middle">II</text>
<text class="mx" x="131" y="385.5">MX</text>
<text class="ms" x="176.4" y="375.8">−</text>
<text class="ms" x="173.4" y="392.7">2, I</text>
<text class="mx" x="378.5" y="385.5">MX</text>
<text class="ms" x="423.9" y="375.8">−</text>
<text class="ms" x="420.9" y="392.7">1</text>
<text class="mx" x="131" y="652.5">MX</text>
<text class="ms" x="176.4" y="642.8">+</text>
<text class="ms" x="173.4" y="659.7">2, I</text>
<text class="mx" x="661.7" y="566">MX</text>
<text class="ms" x="707.2" y="557.4">0</text>
<text class="mx" x="453.8" y="788.6">MX</text>
<text class="ms" x="499.2" y="778.9">+</text>
<text class="ms" x="496.2" y="795.8">1</text>
<text class="mx" x="127" y="937">MX</text>
<text class="ms" x="172.4" y="927.3">+</text>
<text class="ms" x="169.4" y="944.2">2, II</text>
<text class="mx" x="968.5" y="133.6">MX</text>
<text class="ms" x="1013.9" y="123.9">−</text>
<text class="ms" x="1010.9" y="140.8">2, II</text>
<text class="mx" x="972" y="383">MX</text>
<text class="ms" x="1017.4" y="373.3">−</text>
<text class="ms" x="1014.4" y="390.2">2, I</text>
<text class="mx" x="1299" y="385.5">MX</text>
<text class="ms" x="1344.4" y="375.8">−</text>
<text class="ms" x="1341.4" y="392.7">1</text>
<text class="mx" x="1489" y="566">MX</text>
<text class="ms" x="1534.5" y="557.4">0</text>
<text class="mx" x="1258" y="712.5">MX</text>
<text class="ms" x="1303.4" y="702.8">+</text>
<text class="ms" x="1300.4" y="719.7">1</text>
<text class="mx" x="967" y="865.5">MX</text>
<text class="ms" x="1012.4" y="855.8">+</text>
<text class="ms" x="1009.4" y="872.7">2, II</text>
<rect x="465.2" y="852.7" width="226.4" height="19.4" fill="url(#cbar)" stroke="#fff" stroke-width="3.2"/>
<path d="M467.8 873.7v5M578.3 873.7v5M688.7 873.7v5" stroke="#fff" stroke-width="3"/>
<text class="wt" x="468" y="909" text-anchor="middle">0</text>
<text class="wt" x="577.5" y="909" text-anchor="middle">1</text>
<text class="wt" x="686.5" y="909" text-anchor="middle">2</text>
<text class="wt" x="577.5" y="943" text-anchor="middle">PL intensity (a.u.)</text>
</svg></body></html>
